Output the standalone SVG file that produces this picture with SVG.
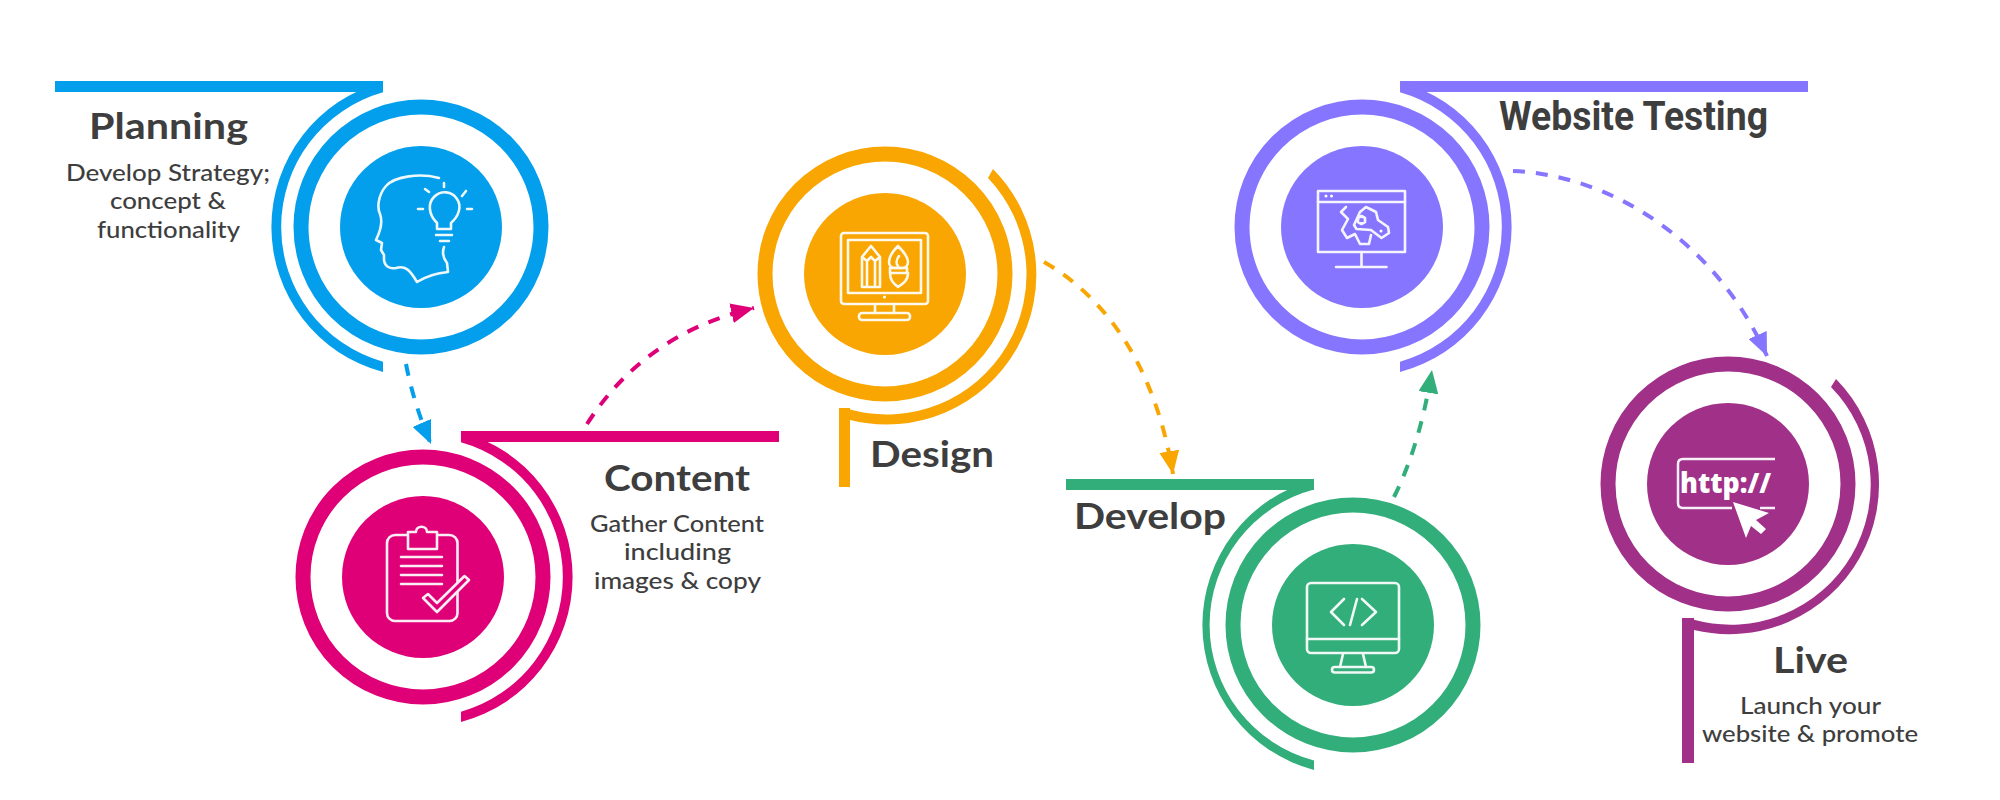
<svg xmlns="http://www.w3.org/2000/svg" width="2000" height="800" viewBox="0 0 2000 800">
<style>
.t{font-family:"Lato","Open Sans","Liberation Sans",sans-serif;fill:#3e3e3e;text-anchor:start}
.h{font-size:36px;font-weight:700}
.s{font-size:23px;font-weight:500}
.ic{fill:none;stroke:#fff;stroke-width:2.600;stroke-linecap:round;stroke-linejoin:round;opacity:.93}
.ring{fill:none;stroke-width:15}
.c{fill:none;stroke-width:4;stroke-dasharray:12 11}
.blue{fill:#039fec}.mag{fill:#df0078}.org{fill:#f9a602}.grn{fill:#32ae7a}.pur{fill:#8675ff}.vio{fill:#a03088}
</style>
<defs>
<marker id="aBlue" markerUnits="userSpaceOnUse" markerWidth="24" markerHeight="20" refX="23" refY="10" orient="auto"><path d="M0,0L23,10L0,20Z" fill="#039fec"/></marker>
<marker id="aMag" markerUnits="userSpaceOnUse" markerWidth="24" markerHeight="20" refX="23" refY="10" orient="auto"><path d="M0,0L23,10L0,20Z" fill="#df0078"/></marker>
<marker id="aOrg" markerUnits="userSpaceOnUse" markerWidth="24" markerHeight="20" refX="23" refY="10" orient="auto"><path d="M0,0L23,10L0,20Z" fill="#f9a602"/></marker>
<marker id="aGrn" markerUnits="userSpaceOnUse" markerWidth="24" markerHeight="20" refX="23" refY="10" orient="auto"><path d="M0,0L23,10L0,20Z" fill="#32ae7a"/></marker>
<marker id="aPur" markerUnits="userSpaceOnUse" markerWidth="24" markerHeight="20" refX="23" refY="10" orient="auto"><path d="M0,0L23,10L0,20Z" fill="#8675ff"/></marker>
</defs>
<rect width="2000" height="800" fill="#fff"/>

<g id="connectors">
<path class="c" stroke="#039fec" marker-end="url(#aBlue)" d="M406,364Q414,405 431,444"/>
<path class="c" stroke="#df0078" marker-end="url(#aMag)" d="M587,424C625,365 680,325 754,308"/>
<path class="c" stroke="#f9a602" marker-end="url(#aOrg)" d="M1044,262C1105,297 1155,365 1173,474"/>
<path class="c" stroke="#32ae7a" marker-end="url(#aGrn)" d="M1394,497Q1420,445 1432,370"/>
<path class="c" stroke="#8675ff" marker-end="url(#aPur)" d="M1513,171C1610,175 1715,240 1767,356"/>
</g>

<g id="planning">
<rect class="blue" x="55" y="81" width="328" height="11"/>
<path class="blue" d="M383,82A150,150 0 0 0 383,372V361.700A140,140 0 0 1 383,92.300Z"/>
<circle class="ring" cx="421" cy="227" r="120" stroke="#039fec"/>
<circle class="blue" cx="421" cy="227" r="81"/>
<g class="ic">
<path d="M439,178C420,173 395,176 386,186C378,195 377,208 380,214C383,222 380,232 376,240L382,243L381,250L384,255L384,260C385,267 390,269 396,268C405,265 410,270 417,282C425,277 437,273 448,272L447,263C443,258 442,253 444,247"/>
<path d="M437,223C428,214 428,203 434,197C441,190 452,191 457,199C462,206 459,216 451,223V229H437Z"/>
<path d="M436,235H452M440,241H449M444,183V187M425,189L429,192M466,191L462,196M418,209H423M467,209H472"/>
</g>
<text class="t h" x="89" y="139" textLength="159" lengthAdjust="spacingAndGlyphs">Planning</text>
<text class="t s" x="66" y="181" textLength="204" lengthAdjust="spacingAndGlyphs">Develop Strategy;</text>
<text class="t s" x="110" y="209" textLength="116" lengthAdjust="spacingAndGlyphs">concept &amp;</text>
<text class="t s" x="97" y="238" textLength="143" lengthAdjust="spacingAndGlyphs">functionality</text>
</g>

<g id="content">
<rect class="mag" x="461" y="431" width="318" height="11"/>
<path class="mag" d="M461,432A150,150 0 0 1 461,722V711.700A140,140 0 0 0 461,442.300Z"/>
<circle class="ring" cx="423" cy="577" r="120" stroke="#df0078"/>
<circle class="mag" cx="423" cy="577" r="81"/>
<g class="ic">
<rect x="387" y="535" width="70.500" height="86" rx="8"/>
<path d="M408,532H416C416,525 427,525 427,532H437V549H408Z" fill="#df0078"/>
<path d="M401,557H442M401,566H442M401,575H442M401,584H442"/>
<path d="M423,598L437,612L469,580L464.500,576L437,603L428,594Z" fill="#df0078"/>
</g>
<text class="t h" x="604" y="491" textLength="146" lengthAdjust="spacingAndGlyphs">Content</text>
<text class="t s" x="590" y="532" textLength="174" lengthAdjust="spacingAndGlyphs">Gather Content</text>
<text class="t s" x="624" y="560" textLength="107" lengthAdjust="spacingAndGlyphs">including</text>
<text class="t s" x="594" y="589" textLength="167" lengthAdjust="spacingAndGlyphs">images &amp; copy</text>
</g>

<g id="design">
<rect class="org" x="839" y="408" width="11" height="79"/>
<path class="org" d="M993,169A150,150 0 0 1 850,420V409.600A140,140 0 0 0 988,178Z"/>
<circle class="ring" cx="885" cy="274" r="120" stroke="#f9a602"/>
<circle class="org" cx="885" cy="274" r="81"/>
<g class="ic">
<rect x="841" y="233" width="87" height="71" rx="3"/>
<rect x="848" y="240" width="73" height="53"/>
<path d="M875,304V313M894,304V313"/>
<rect x="859" y="313" width="51" height="7" rx="3"/>
<path d="M862,287V257L871,246L880,257V287ZM862,257L867,261L871,257L875,261L880,257M867,261V287M875,261V287"/>
<path d="M898,246C892,252 889,258 889,262C889,266 892,268 894,268H902C905,268 908,266 908,262C908,258 904,252 898,246ZM899,256C896,260 896,264 898,266"/>
<path d="M890,268H907V273H890ZM890,273C890,280 893,283 898,287C904,283 908,280 908,273"/>
</g>
<circle cx="884.500" cy="297" r="1.500" fill="#fff"/>
<text class="t h" x="870" y="467" textLength="124" lengthAdjust="spacingAndGlyphs">Design</text>
</g>

<g id="develop">
<rect class="grn" x="1066" y="479" width="248" height="11"/>
<path class="grn" d="M1314,480A150,150 0 0 0 1314,770V760.400A140,140 0 0 1 1314,489.600Z"/>
<circle class="ring" cx="1353" cy="625" r="120" stroke="#32ae7a"/>
<circle class="grn" cx="1353" cy="625" r="81"/>
<g class="ic">
<rect x="1307" y="583" width="92" height="70" rx="4"/>
<path d="M1307,639H1399M1344,599L1331,612L1344,625M1362,599L1376,612L1362,625M1357,599L1350,625"/>
<path d="M1343,654L1340,667M1363,654L1366,667"/>
<rect x="1332" y="667" width="42" height="5.500" rx="2.700"/>
</g>
<text class="t h" x="1074" y="529" textLength="152" lengthAdjust="spacingAndGlyphs">Develop</text>
</g>

<g id="website-testing">
<rect class="pur" x="1400" y="81" width="408" height="11"/>
<path class="pur" d="M1400,82A150,150 0 0 1 1400,372V361.700A140,140 0 0 0 1400,92.300Z"/>
<circle class="ring" cx="1362" cy="227" r="120" stroke="#8675ff"/>
<circle class="pur" cx="1362" cy="227" r="81"/>
<g class="ic">
<rect x="1318" y="191" width="87" height="61"/>
<path d="M1318,202H1405M1361.500,252V267M1336,267H1386.500"/>
<path d="M1346,207L1341,212L1348,219L1342,230L1347,238L1355,234L1360,244L1369,244L1371,235"/>
<path d="M1366,207L1376,212L1378,220L1388,227L1389,233L1381.500,238L1371,230L1356.500,229L1354,225L1360,212Z"/>
<path d="M1361.500,216L1365,218V222L1361.500,224L1358,222V218Z"/>
</g>
<circle cx="1326" cy="196" r="1.500" fill="#fff"/><circle cx="1331.500" cy="196" r="1.500" fill="#fff"/><circle cx="1381" cy="231" r="1.500" fill="#fff"/>
<text x="1499" y="130" textLength="269" lengthAdjust="spacingAndGlyphs" style="font-family:Roboto,'Liberation Sans',sans-serif;font-weight:700;font-size:40px;fill:#3e3e3e">Website Testing</text>
</g>

<g id="live">
<rect class="vio" x="1682" y="618" width="12" height="145"/>
<path class="vio" d="M1836,379A150,150 0 0 1 1694,630V619.800A140,140 0 0 0 1831,387Z"/>
<circle class="ring" cx="1728" cy="484" r="120" stroke="#a03088"/>
<circle class="vio" cx="1728" cy="484" r="81"/>
<path d="M1775,459H1683Q1678,459 1678,464V503Q1678,508 1683,508H1732M1760,508H1775" fill="none" stroke="#fff" stroke-width="2.500" opacity=".93"/>
<text x="1680" y="493" textLength="91" lengthAdjust="spacingAndGlyphs" style="font-family:'Open Sans','Liberation Sans',sans-serif;font-weight:800;font-size:29px;fill:#fff">http://</text>
<path d="M1733,502L1746,538L1751,526L1761,534L1766,529L1756,520L1769,513Z" fill="#fff"/>
<text class="t h" x="1773" y="673" textLength="75" lengthAdjust="spacingAndGlyphs">Live</text>
<text class="t s" x="1740" y="714" textLength="141" lengthAdjust="spacingAndGlyphs">Launch your</text>
<text class="t s" x="1702" y="742" textLength="216" lengthAdjust="spacingAndGlyphs">website &amp; promote</text>
</g>
</svg>
